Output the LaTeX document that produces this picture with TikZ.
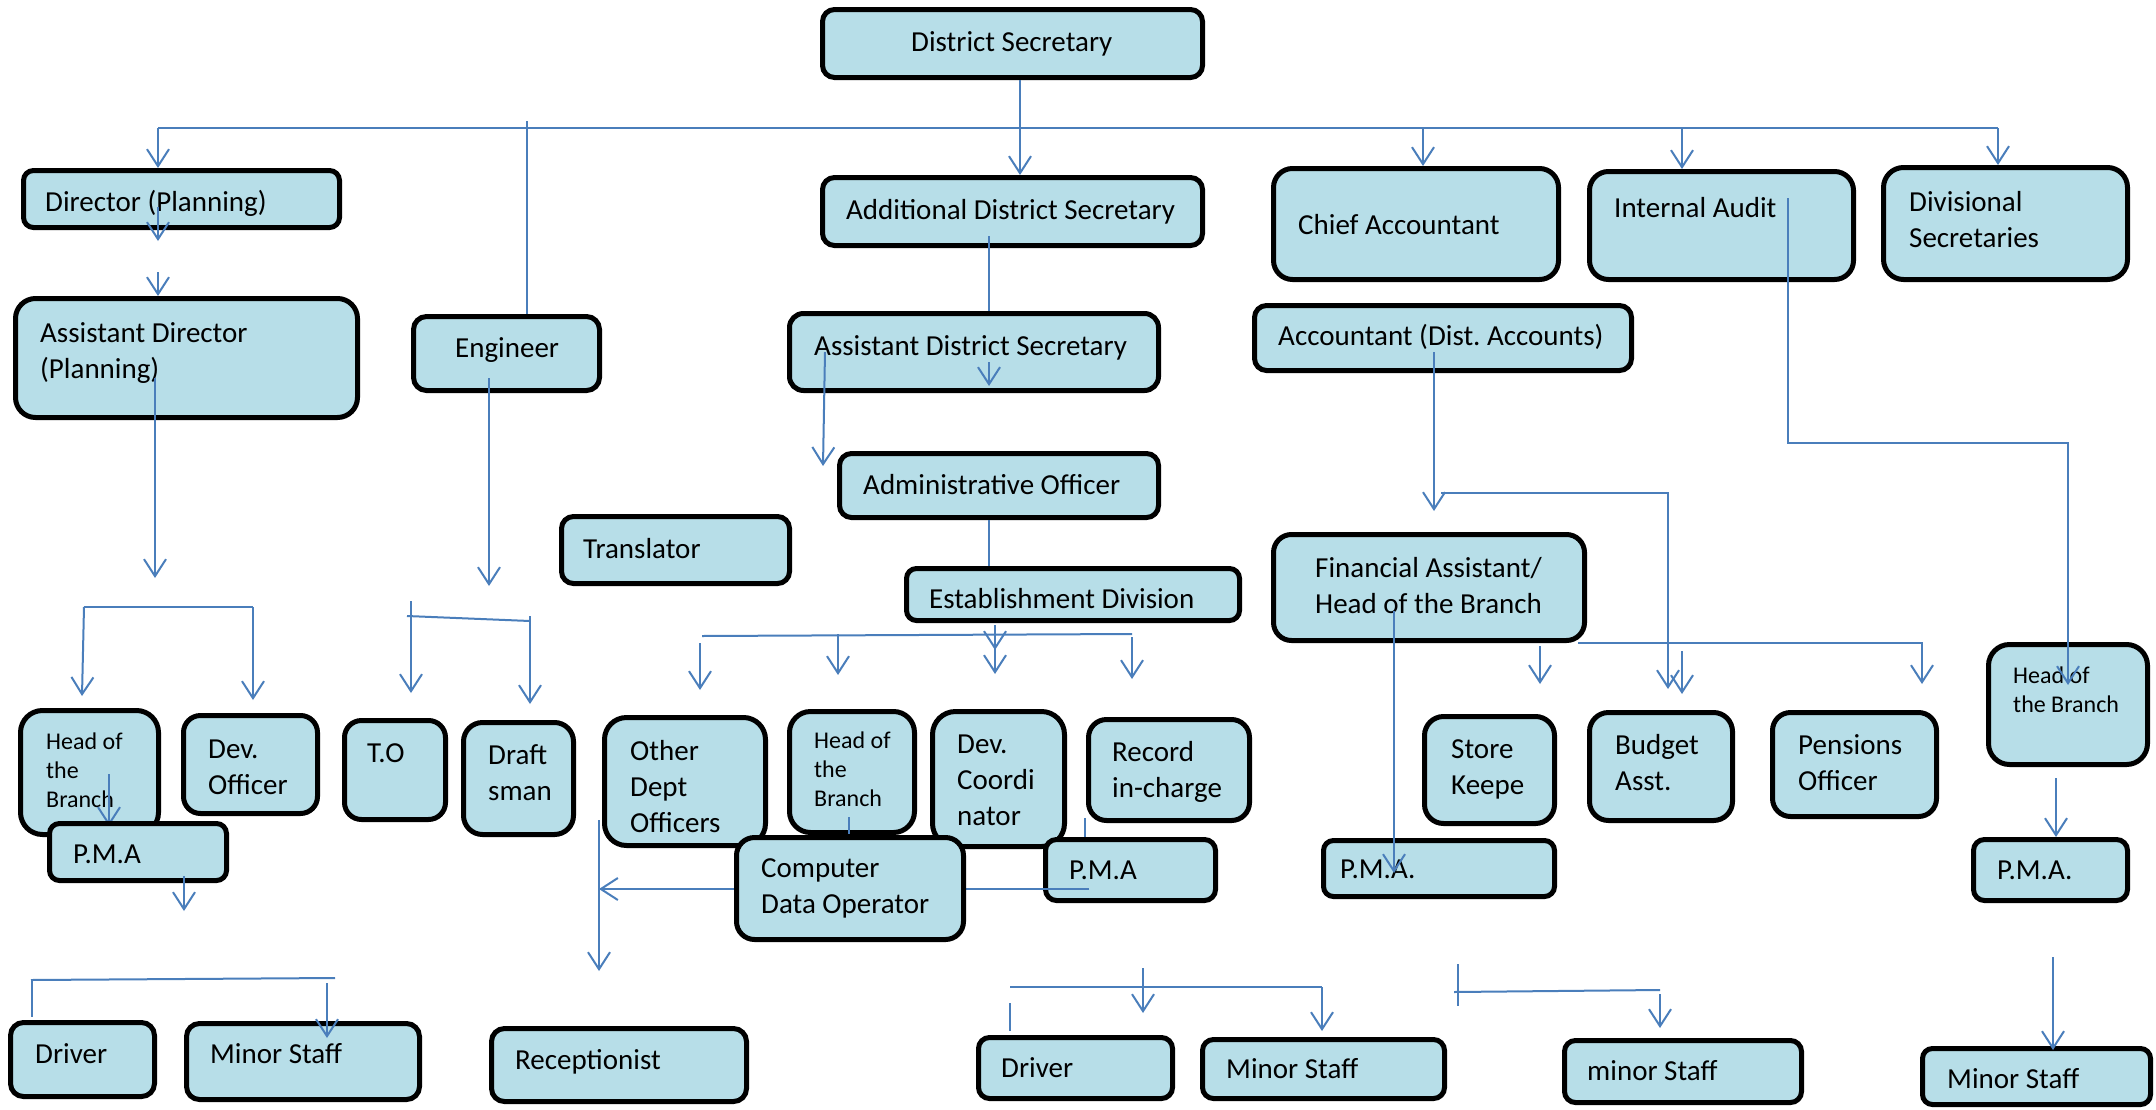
\documentclass[tikz,border=0pt]{standalone}
\usepackage{fontspec}
\setmainfont{Carlito}
\frenchspacing
\usetikzlibrary{arrows.meta}
\definecolor{boxfill}{HTML}{B7DEE8}
\definecolor{cb}{HTML}{4A7EBB}
\newcommand\bx[6]{%
  \pgfmathsetmacro\bxcx{(#2+#4)/2}\pgfmathsetmacro\bxcy{(#3+#5)/2}%
  \pgfmathsetmacro\bxw{#4-#2-5}\pgfmathsetmacro\bxh{#5-#3-5}%
  \node[box,rounded corners=#6pt,minimum width=\bxw pt,minimum height=\bxh pt] (#1) at (\bxcx,\bxcy) {};}
\newcommand\tx[4]{\node[txt] (#1) at ({#2},{#3-25.2}) {\strut #4};}
\newcommand\txs[4]{\node[txts] (#1) at ({#2},{#3-20.3}) {\strut #4};}
\begin{document}
\begin{tikzpicture}[x=1pt,y=-1pt,
  box/.style={draw=black,line width=5pt,fill=boxfill,inner sep=0pt},
  txt/.style={anchor=north west,inner sep=0pt,align=left,font=\fontsize{29}{36}\selectfont},
  txts/.style={anchor=north west,inner sep=0pt,align=left,font=\fontsize{24}{29}\selectfont},
  conn/.style={draw=cb,line width=2pt},
  arr/.style={-{Straight Barb[length=17pt,width=22pt]}}]
\useasboundingbox (0,0) rectangle (2156,1109);

% ---------- boxes and texts ----------
\bx{ds}{820}{7}{1205}{80}{12}      \tx{tds}{911}{51}{District Secretary}
\bx{dp}{21}{168}{342}{230}{10}     \tx{tdp}{45}{211}{Director (Planning)}
\bx{ad}{13}{296}{360}{420}{20}     \tx{tad}{40}{342}{Assistant Director\\(Planning)}
\bx{eng}{411}{314}{602}{393}{13}   \tx{teng}{455}{357}{Engineer}
\bx{ads}{820}{175}{1205}{248}{12}  \tx{tads}{846}{219}{Additional District Secretary}
\bx{asd}{787}{311}{1161}{393}{14}  \tx{tasd}{814}{355}{Assistant District Secretary}
\bx{ao}{837}{451}{1161}{520}{12}   \tx{tao}{863}{494}{Administrative Officer}
\bx{tr}{559}{514}{792}{586}{12}    \tx{ttr}{583}{558}{Translator}
\bx{est}{904}{566}{1242}{623}{10}  \tx{test}{929}{608}{Establishment Division}
\bx{ca}{1271}{166}{1561}{282}{19}  \tx{tca}{1298}{234}{Chief Accountant}
\bx{ia}{1587}{169}{1856}{282}{19}  \tx{tia}{1614}{217}{Internal Audit}
\bx{dvs}{1881}{165}{2130}{282}{20} \tx{tdvs}{1909}{211}{Divisional\\Secretaries}
\bx{acc}{1252}{303}{1634}{373}{12} \tx{tacc}{1278}{345}{Accountant (Dist. Accounts)}
\bx{fa}{1271}{532}{1587}{643}{18}  \tx{tfa}{1315}{577}{Financial Assistant/\\Head of the Branch}
\bx{hobA}{18}{708}{161}{837}{22}   \txs{thobA}{46}{749}{Head of\\the\\Branch}
\bx{devo}{181}{713}{320}{816}{17}  \tx{tdevo}{208}{758}{Dev.\\Officer}
\bx{to}{342}{718}{448}{822}{17}    \tx{tto}{367}{762}{T.O}
\bx{dft}{461}{720}{576}{837}{19}   \tx{tdft}{488}{764}{Draft\\sman}
\bx{odo}{602}{715}{768}{848}{22}   \tx{todo}{630}{760}{Other\\Dept\\Officers}
\bx{hobB}{787}{709}{917}{835}{21}  \txs{thobB}{814}{748}{Head of\\the\\Branch}
\bx{dc}{930}{709}{1067}{849}{23}   \tx{tdc}{957}{753}{Dev.\\Coordi\\nator}
\bx{rec}{1086}{717}{1252}{823}{18} \tx{trec}{1112}{761}{Record\\in-charge}
\bx{sk}{1422}{714}{1557}{826}{19}  \tx{tsk}{1451}{758}{Store\\Keepe}
\bx{ba}{1587}{710}{1735}{823}{19}  \tx{tba}{1615}{754}{Budget\\Asst.}
\bx{po}{1770}{710}{1939}{819}{18}  \tx{tpo}{1798}{754}{Pensions\\Officer}
\bx{hobC}{1986}{642}{2150}{767}{21}\txs{thobC}{2013}{683}{Head of\\the Branch}
\bx{pmaC}{1321}{838}{1557}{899}{10}\tx{tpmaC}{1340}{878}{P.M.A.}
\bx{pmaD}{1971}{837}{2130}{903}{11}\tx{tpmaD}{1997}{879}{P.M.A.}
\bx{drvA}{8}{1020}{157}{1099}{13}  \tx{tdrvA}{35}{1063}{Driver}
\bx{msA}{184}{1021}{422}{1102}{13} \tx{tmsA}{210}{1063}{Minor Staff}
\bx{rcp}{489}{1026}{749}{1104}{13} \tx{trcp}{515}{1069}{Receptionist}
\bx{drvB}{976}{1035}{1175}{1101}{11}\tx{tdrvB}{1001}{1077}{Driver}
\bx{msB}{1200}{1037}{1447}{1101}{11}\tx{tmsB}{1226}{1078}{Minor Staff}
\bx{msC}{1562}{1038}{1804}{1105}{11}\tx{tmsC}{1587}{1080}{minor Staff}
\bx{msD}{1920}{1046}{2153}{1107}{10}\tx{tmsD}{1947}{1088}{Minor Staff}

% arrow under P.M.A (left)
\coordinate (h1) at (109,774); \coordinate (h2) at (109,826);
\draw[conn,arr] (h1) -- (h2);
\bx{pmaA}{47}{821}{229}{883}{10}   \tx{tpmaA}{73}{863}{P.M.A}

% middle P.M.A, line behind Computer Data Operator
\bx{pmaB}{1043}{837}{1218}{903}{11}\tx{tpmaB}{1069}{879}{P.M.A}
\coordinate (l1) at (1089,889); \coordinate (l2) at (599,889);
\draw[conn,arr] (l1) -- (l2);
\coordinate (l3) at (849,817);
\draw[conn] (l3) -- (849,834);
\bx{cdo}{734}{835}{966}{942}{18}   \tx{tcdo}{761}{877}{Computer\\Data Operator}

% ---------- connectors ----------
% top bus
\coordinate (busL) at (158,128); \coordinate (busR) at (1998,128);
\draw[conn] (busL) -- (busR);
\draw[conn,arr] (busL) -- (busL |- dp.north);
\coordinate (engtop) at (527,121);
\draw[conn] (engtop) -- (engtop |- eng.north);
\coordinate (dsx) at (1020,128);
\draw[conn,arr] (ds.south -| dsx) -- (dsx |- ads.north);
\coordinate (cax) at (1423,128);
\draw[conn,arr] (cax) -- (cax |- ca.north);
\coordinate (iax) at (1682,128);
\draw[conn,arr] (iax) -- (iax |- ia.north);
\draw[conn,arr] (busR) -- (busR |- dvs.north);

% planning column
\coordinate (p1) at (158,207); \coordinate (p2) at (158,241);
\draw[conn,arr] (p1) -- (p2);
\coordinate (p3) at (158,272);
\draw[conn,arr] (p3) -- (p3 |- ad.north);
\coordinate (p4) at (155,378); \coordinate (p5) at (155,578);
\draw[conn,arr] (p4) -- (p5);
\coordinate (b1) at (84,607); \coordinate (b2) at (253,607);
\coordinate (b3) at (82,696); \coordinate (b4) at (253,700);
\draw[conn] (b1) -- (b2);
\draw[conn,arr] (b1) -- (b3);
\draw[conn,arr] (b2) -- (b4);
\coordinate (m1) at (184,876); \coordinate (m2) at (184,911);
\draw[conn,arr] (m1) -- (m2);
\coordinate (d1) at (31,980); \coordinate (d2) at (335,978);
\draw[conn] (d1) -- (d2);
\coordinate (d3) at (32,980);
\draw[conn] (d3) -- (32,1017);
\coordinate (d4) at (327,983); \coordinate (d5) at (327,1038);
\draw[conn,arr] (d4) -- (d5);

% engineer column
\coordinate (e1) at (489,378); \coordinate (e2) at (489,586);
\draw[conn,arr] (e1) -- (e2);
\coordinate (e3) at (411,601); \coordinate (e4) at (411,693);
\draw[conn,arr] (e3) -- (e4);
\coordinate (e5) at (407,616); \coordinate (e6) at (530,621);
\draw[conn] (e5) -- (e6);
\coordinate (e7) at (530,616); \coordinate (e8) at (530,704);
\draw[conn,arr] (e7) -- (e8);

% administration column
\coordinate (a1) at (989,236);
\draw[conn] (a1) -- (a1 |- asd.north);
\coordinate (a2) at (989,362); \coordinate (a3) at (989,386);
\draw[conn,arr] (a2) -- (a3);
\coordinate (a4) at (825,352); \coordinate (a5) at (823,466);
\draw[conn,arr] (a4) -- (a5);
\coordinate (a6) at (989,520);
\draw[conn] (ao.south -| a6) -- (a6 |- est.north);
\coordinate (s1) at (702,636); \coordinate (s2) at (1132,634);
\draw[conn] (s1) -- (s2);
\coordinate (s3) at (700,643); \coordinate (s4) at (700,690);
\draw[conn,arr] (s3) -- (s4);
\coordinate (s5) at (838,634); \coordinate (s6) at (838,675);
\draw[conn,arr] (s5) -- (s6);
\coordinate (s7) at (995,625); \coordinate (s8) at (995,674); \coordinate (s8b) at (995,650);
\draw[conn,arr] (s7) -- (s8);
\draw[conn,arr] (s7) -- (s8b);
\coordinate (s9) at (1132,637); \coordinate (s10) at (1132,679);
\draw[conn,arr] (s9) -- (s10);
\coordinate (o1) at (599,820); \coordinate (o2) at (599,971);
\draw[conn,arr] (o1) -- (o2);
\coordinate (o3) at (1085,818);
\draw[conn] (o3) -- (o3 |- pmaB.north);
\coordinate (q1) at (1010,987); \coordinate (q2) at (1322,987);
\draw[conn] (q1) -- (q2);
\coordinate (q3) at (1010,1003); \coordinate (q4) at (1010,1031);
\draw[conn] (q3) -- (q4);
\coordinate (q5) at (1143,968); \coordinate (q6) at (1143,1013);
\draw[conn,arr] (q5) -- (q6);
\coordinate (q7) at (1322,1031);
\draw[conn,arr] (q2) -- (q7);

% accounts column
\coordinate (k1) at (1434,352); \coordinate (k2) at (1434,511);
\draw[conn,arr] (k1) -- (k2);
\coordinate (k3) at (1441,493); \coordinate (k4) at (1668,493); \coordinate (k5) at (1668,689);
\draw[conn,arr] (k3) -- (k4) -- (k5);
\coordinate (k6) at (1682,651); \coordinate (k7) at (1682,694);
\draw[conn,arr] (k6) -- (k7);
\coordinate (k8) at (1394,611); \coordinate (k9) at (1394,873);
\draw[conn,arr] (k8) -- (k9);
\coordinate (k10) at (1578,643); \coordinate (k11) at (1922,643); \coordinate (k12) at (1922,684);
\draw[conn,arr] (k10) -- (k11) -- (k12);
\coordinate (k13) at (1540,646); \coordinate (k14) at (1540,684);
\draw[conn,arr] (k13) -- (k14);

% internal audit
\coordinate (i1) at (1788,198); \coordinate (i2) at (1788,443);
\coordinate (i3) at (2068,443); \coordinate (i4) at (2068,685);
\draw[conn,arr] (i1) -- (i2) -- (i3) -- (i4);
\coordinate (r1) at (2056,778);
\draw[conn,arr] (r1) -- (r1 |- pmaD.north);
\coordinate (r3) at (1458,964); \coordinate (r4) at (1458,1006);
\draw[conn] (r3) -- (r4);
\coordinate (r5) at (1454,992); \coordinate (r6) at (1660,990);
\draw[conn] (r5) -- (r6);
\coordinate (r7) at (1660,994); \coordinate (r8) at (1660,1028);
\draw[conn,arr] (r7) -- (r8);
\coordinate (r9) at (2053,957); \coordinate (r10) at (2053,1050);
\draw[conn,arr] (r9) -- (r10);
\end{tikzpicture}
\end{document}
